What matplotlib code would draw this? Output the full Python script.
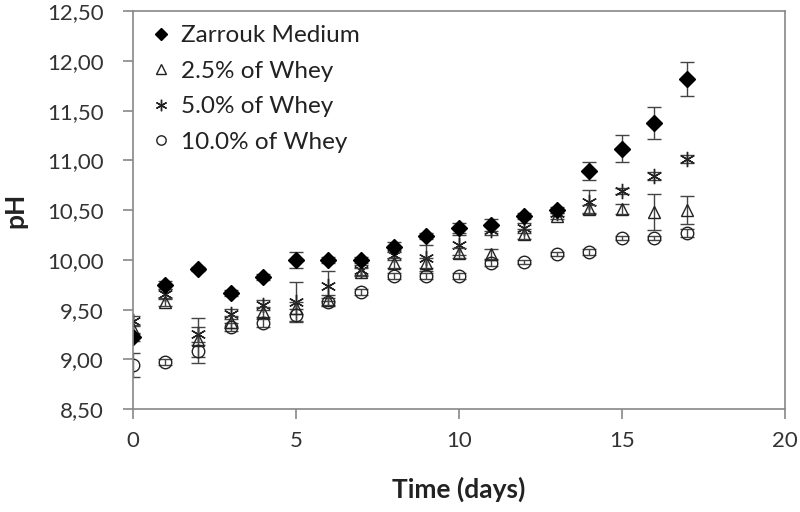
import numpy as np
import matplotlib.pyplot as plt
from matplotlib.ticker import FuncFormatter

plt.rcParams['font.family'] = ['Lato', 'DejaVu Sans']

days = np.arange(0, 18)

# pH values
zarrouk = [9.22, 9.75, 9.91, 9.67, 9.83, 10.00, 10.00, 10.00, 10.13, 10.24,
           10.32, 10.35, 10.44, 10.50, 10.89, 11.12, 11.38, 11.82]
zarrouk_err = [0.04, 0.04, 0.02, 0.03, 0.03, 0.08, 0.03, 0.03, 0.05, 0.03,
               0.05, 0.06, 0.03, 0.03, 0.09, 0.14, 0.16, 0.17]

whey25 = [9.31, 9.58, 9.19, 9.38, 9.48, 9.52, 9.60, 9.88, 9.97, 9.97,
          10.07, 10.06, 10.26, 10.44, 10.51, 10.51, 10.48, 10.50]
whey25_err = [0.04, 0.04, 0.23, 0.06, 0.05, 0.06, 0.05, 0.04, 0.05, 0.05,
              0.05, 0.05, 0.05, 0.03, 0.04, 0.05, 0.18, 0.14]

whey50 = [9.39, 9.66, 9.25, 9.46, 9.55, 9.58, 9.74, 9.90, 10.05, 10.02,
          10.15, 10.30, 10.32, 10.47, 10.58, 10.69, 10.84, 11.01]
whey50_err = [0.05, 0.05, 0.08, 0.05, 0.05, 0.20, 0.15, 0.05, 0.05, 0.13,
              0.10, 0.05, 0.05, 0.03, 0.12, 0.03, 0.04, 0.04]

whey100 = [8.94, 8.97, 9.08, 9.33, 9.37, 9.45, 9.58, 9.68, 9.84, 9.84,
           9.84, 9.97, 9.98, 10.06, 10.08, 10.22, 10.22, 10.27]
whey100_err = [0.12, 0.03, 0.06, 0.04, 0.04, 0.06, 0.04, 0.03, 0.03, 0.03,
               0.03, 0.03, 0.02, 0.02, 0.03, 0.02, 0.02, 0.04]

fig = plt.figure(figsize=(8, 5.12), dpi=100)
ax = fig.add_axes([0.166, 0.201, 0.815, 0.777])

ecol = '#444444'
asterisk = (6, 2, 0)
c100 = ax.errorbar(days, whey100, yerr=whey100_err, fmt='o', mfc='none', mec='#222222',
                   ms=9, mew=1.0, ecolor=ecol, elinewidth=1, capsize=5)
ax.errorbar(days, whey50, yerr=whey50_err, fmt='none', ecolor=ecol,
            elinewidth=1, capsize=5)
l50, = ax.plot(days, whey50, ls='none', marker=asterisk, color='#222222', ms=11, mew=1.0)
c25 = ax.errorbar(days, whey25, yerr=whey25_err, fmt='^', mfc='none', mec='#222222',
                  ms=9, mew=1.0, ecolor=ecol, elinewidth=1, capsize=5)
cz = ax.errorbar(days, zarrouk, yerr=zarrouk_err, fmt='D', color='black',
                 ms=8, ecolor=ecol, elinewidth=1, capsize=5)

ax.set_xlim(0, 20)
ax.set_ylim(8.5, 12.5)
ax.set_xticks([0, 5, 10, 15, 20])
ax.set_yticks(np.arange(8.5, 12.51, 0.5))
ax.yaxis.set_major_formatter(FuncFormatter(lambda v, p: f'{v:.2f}'.replace('.', ',')))

for s in ax.spines.values():
    s.set_color('#888888')
    s.set_linewidth(1.2)
ax.tick_params(colors='#888888', labelcolor='#333333', labelsize=16,
               length=7, width=1.2)
ax.tick_params(axis='y', pad=14)
ax.tick_params(axis='x', pad=9)

ax.set_xlabel('Time (days)', fontsize=19, fontweight='bold', color='#222222', labelpad=18)
ax.set_ylabel('pH', fontsize=19, fontweight='bold', color='#222222', labelpad=14)

ax.legend([cz[0], c25[0], l50, c100[0]],
          ['Zarrouk Medium', '2.5% of Whey', '5.0% of Whey', '10.0% of Whey'],
          loc='upper left', bbox_to_anchor=(0.0, 1.02), frameon=False,
          fontsize=17.5, handlelength=0.5, handletextpad=0.6,
          labelspacing=0.6, markerscale=0.75, labelcolor='#222222')

fig.savefig('out.png', dpi=100)
